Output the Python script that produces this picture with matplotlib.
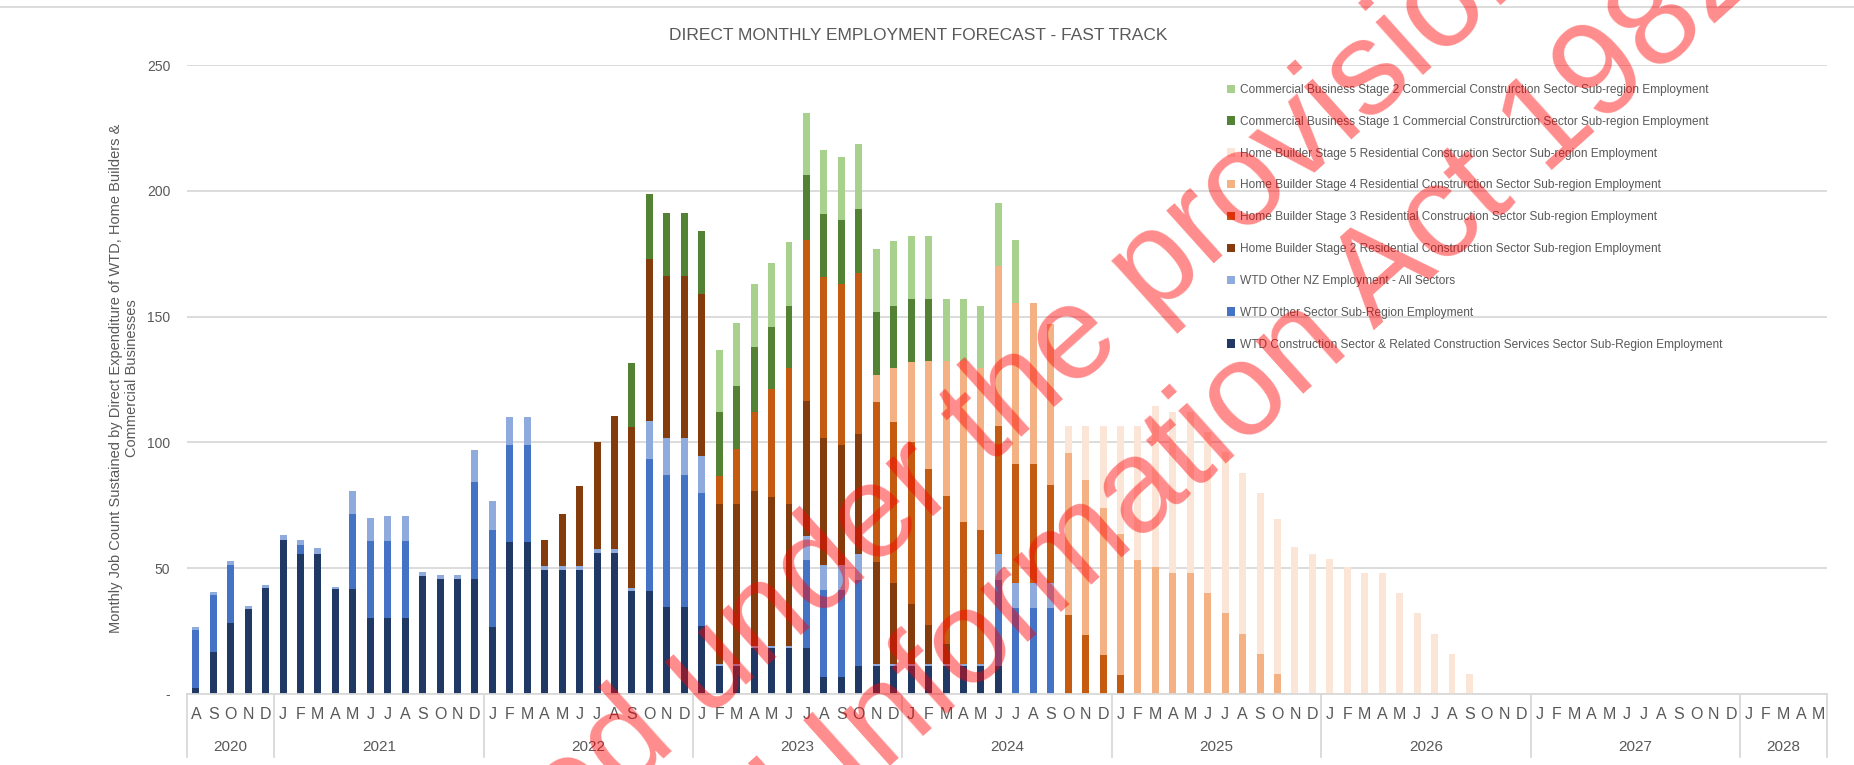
import numpy as np
import matplotlib
matplotlib.use("Agg")
import matplotlib.pyplot as plt
from matplotlib.transforms import blended_transform_factory
from matplotlib.lines import Line2D

plt.rcParams['font.family'] = ['Liberation Sans', 'DejaVu Sans']

# months Aug 2020 .. May 2028
months = list("ASOND") + list("JFMAMJJASOND") * 7 + list("JFMAM")
years = ["2020", "2021", "2022", "2023", "2024", "2025", "2026", "2027", "2028"]
year_months = [5, 12, 12, 12, 12, 12, 12, 12, 5]

# series values (jobs), stacked bottom -> top
wtd_construction = [
    2.3, 16.7, 28.2, 33.6, 42.2,
    61.4, 55.5, 55.5, 41.6, 41.6, 30.3, 30.3, 30.3, 46.8, 45.6, 45.6, 45.6,
    26.5, 60.4, 60.4, 49.3, 49.3, 49.3, 56.1, 56.1, 40.9, 40.9, 34.5, 34.5,
    26.9, 11.3, 11.3, 18.4, 18.4, 18.4, 18.4, 6.8, 6.8, 11.0, 11.0, 11.0,
    11.0, 11.0, 11.0, 11.0, 11.0, 11.0, 0, 0, 0, 0, 0, 0,
    0, 0, 0, 0, 0, 0, 0, 0, 0, 0, 0, 0,
    0, 0, 0, 0, 0, 0, 0, 0, 0, 0, 0, 0,
    0, 0, 0, 0, 0, 0, 0, 0, 0, 0, 0, 0,
    0, 0, 0, 0, 0]
wtd_other_sector = [
    23.0, 22.6, 23.0, 0, 0,
    0, 3.6, 0, 0, 30.0, 30.5, 30.5, 30.5, 0, 0, 0, 38.7,
    38.6, 38.7, 38.7, 0, 0, 0, 0, 0, 0, 52.4, 52.4, 52.4,
    52.9, 0, 0, 0, 0, 0, 34.7, 34.4, 34.4, 34.4, 0, 0,
    0, 0, 0, 0, 0, 34.5, 34.2, 34.2, 34.2, 0, 0, 0,
    0, 0, 0, 0, 0, 0, 0, 0, 0, 0, 0, 0,
    0, 0, 0, 0, 0, 0, 0, 0, 0, 0, 0, 0,
    0, 0, 0, 0, 0, 0, 0, 0, 0, 0, 0, 0,
    0, 0, 0, 0, 0]
wtd_other_nz = [
    1.4, 1.4, 1.5, 1.5, 1.0,
    1.8, 2.1, 2.4, 1.0, 9.0, 9.3, 10.0, 10.0, 1.5, 1.6, 1.6, 12.6,
    11.7, 11.1, 11.1, 1.6, 1.6, 1.6, 1.6, 1.6, 1.4, 15.3, 14.9, 14.9,
    14.9, 0.8, 0.8, 0.8, 0.8, 0.8, 9.8, 10.0, 10.0, 10.2, 0.9, 0.9,
    0.9, 0.9, 0.9, 0.9, 0.9, 10.0, 10.0, 10.0, 10.0, 0, 0, 0,
    0, 0, 0, 0, 0, 0, 0, 0, 0, 0, 0, 0,
    0, 0, 0, 0, 0, 0, 0, 0, 0, 0, 0, 0,
    0, 0, 0, 0, 0, 0, 0, 0, 0, 0, 0, 0,
    0, 0, 0, 0, 0]
hb_stage2 = [
    0, 0, 0, 0, 0,
    0, 0, 0, 0, 0, 0, 0, 0, 0, 0, 0, 0,
    0, 0, 0, 10.5, 20.8, 31.7, 42.4, 52.9, 63.8, 64.2, 64.2, 64.2,
    64.2, 63.6, 63.6, 61.3, 59.1, 56.5, 53.7, 50.4, 47.8, 47.8, 40.5, 32.1,
    23.9, 15.7, 8.1, 0, 0, 0, 0, 0, 0, 0, 0, 0,
    0, 0, 0, 0, 0, 0, 0, 0, 0, 0, 0, 0,
    0, 0, 0, 0, 0, 0, 0, 0, 0, 0, 0, 0,
    0, 0, 0, 0, 0, 0, 0, 0, 0, 0, 0, 0,
    0, 0, 0, 0, 0]
hb_stage3 = [
    0, 0, 0, 0, 0,
    0, 0, 0, 0, 0, 0, 0, 0, 0, 0, 0, 0,
    0, 0, 0, 0, 0, 0, 0, 0, 0, 0, 0, 0,
    0, 11.1, 21.7, 31.7, 43.1, 53.7, 64.0, 64.1, 63.9, 63.8, 63.6, 64.1,
    64.2, 61.9, 58.9, 56.3, 53.1, 51.0, 47.4, 47.4, 39.0, 31.4, 23.5, 15.6,
    7.6, 0, 0, 0, 0, 0, 0, 0, 0, 0, 0, 0,
    0, 0, 0, 0, 0, 0, 0, 0, 0, 0, 0, 0,
    0, 0, 0, 0, 0, 0, 0, 0, 0, 0, 0, 0,
    0, 0, 0, 0, 0]
hb_stage4 = [
    0, 0, 0, 0, 0,
    0, 0, 0, 0, 0, 0, 0, 0, 0, 0, 0, 0,
    0, 0, 0, 0, 0, 0, 0, 0, 0, 0, 0, 0,
    0, 0, 0, 0, 0, 0, 0, 0, 0, 0, 10.9, 21.3,
    32.0, 43.0, 53.6, 64.0, 64.4, 63.5, 63.9, 63.9, 63.9, 64.4, 61.5, 58.4,
    55.9, 53.3, 50.3, 47.9, 47.9, 40.0, 32.0, 24.0, 16.0, 8.0, 0, 0,
    0, 0, 0, 0, 0, 0, 0, 0, 0, 0, 0, 0,
    0, 0, 0, 0, 0, 0, 0, 0, 0, 0, 0, 0,
    0, 0, 0, 0, 0]
hb_stage5 = [
    0, 0, 0, 0, 0,
    0, 0, 0, 0, 0, 0, 0, 0, 0, 0, 0, 0,
    0, 0, 0, 0, 0, 0, 0, 0, 0, 0, 0, 0,
    0, 0, 0, 0, 0, 0, 0, 0, 0, 0, 0, 0,
    0, 0, 0, 0, 0, 0, 0, 0, 0, 10.6, 21.4, 32.4,
    43.0, 53.2, 64.3, 64.0, 64.0, 64.0, 64.0, 64.0, 64.0, 61.5, 58.5, 55.6,
    53.6, 50.3, 47.9, 47.9, 40.0, 32.0, 24.0, 16.0, 8.0, 0, 0, 0,
    0, 0, 0, 0, 0, 0, 0, 0, 0, 0, 0, 0,
    0, 0, 0, 0, 0]
cb_stage1 = [
    0, 0, 0, 0, 0,
    0, 0, 0, 0, 0, 0, 0, 0, 0, 0, 0, 0,
    0, 0, 0, 0, 0, 0, 0, 0, 25.4, 26.0, 25.2, 25.2,
    25.0, 25.1, 25.2, 25.8, 24.6, 24.8, 25.6, 25.2, 25.6, 25.7, 24.9, 24.8,
    25.2, 24.7, 0, 0, 0, 0, 0, 0, 0, 0, 0, 0,
    0, 0, 0, 0, 0, 0, 0, 0, 0, 0, 0, 0,
    0, 0, 0, 0, 0, 0, 0, 0, 0, 0, 0, 0,
    0, 0, 0, 0, 0, 0, 0, 0, 0, 0, 0, 0,
    0, 0, 0, 0, 0]
cb_stage2 = [
    0, 0, 0, 0, 0,
    0, 0, 0, 0, 0, 0, 0, 0, 0, 0, 0, 0,
    0, 0, 0, 0, 0, 0, 0, 0, 0, 0, 0, 0,
    0, 24.9, 25.0, 24.9, 25.4, 25.3, 24.9, 25.2, 24.8, 25.6, 25.0, 25.8,
    24.8, 24.8, 24.7, 25.0, 24.8, 25.3, 25.0, 0, 0, 0, 0, 0,
    0, 0, 0, 0, 0, 0, 0, 0, 0, 0, 0, 0,
    0, 0, 0, 0, 0, 0, 0, 0, 0, 0, 0, 0,
    0, 0, 0, 0, 0, 0, 0, 0, 0, 0, 0, 0,
    0, 0, 0, 0, 0]

series = [
    (wtd_construction, "#203864", "WTD Construction Sector & Related Construction Services Sector Sub-Region Employment"),
    (wtd_other_sector, "#4472c4", "WTD Other Sector Sub-Region Employment"),
    (wtd_other_nz, "#8faadc", "WTD Other NZ Employment - All Sectors"),
    (hb_stage2, "#843c0c", "Home Builder Stage 2 Residential Construrction Sector Sub-region Employment"),
    (hb_stage3, "#c55a11", "Home Builder Stage 3 Residential Construction Sector Sub-region Employment"),
    (hb_stage4, "#f4b183", "Home Builder Stage 4 Residential Construrction Sector Sub-region Employment"),
    (hb_stage5, "#fbe5d6", "Home Builder Stage 5 Residential Construction Sector Sub-region Employment"),
    (cb_stage1, "#548235", "Commercial Business Stage 1 Commercial Construrction Sector Sub-region Employment"),
    (cb_stage2, "#a9d18e", "Commercial Business Stage 2 Commercial Construrction Sector Sub-region Employment"),
]

grey = "#595959"
line_grey = "#d9d9d9"

fig = plt.figure(figsize=(18.54, 7.65), dpi=100)
ax = fig.add_axes([0.1009, 0.0928, 0.8846, 0.8222])

x = np.arange(len(months))
bottom = np.zeros(len(months))
handles = []
for vals, col, lab in series:
    v = np.array(vals, dtype=float)
    b = ax.bar(x, v, 0.4, bottom=bottom, color=col, label=lab, zorder=2)
    handles.append(b)
    bottom += v

ax.set_xlim(-0.5, len(months) - 0.5)
ax.set_ylim(0, 250)
ax.set_yticks([0, 50, 100, 150, 200, 250])
ax.set_yticklabels(["-", "50", "100", "150", "200", "250"])
ax.yaxis.grid(True, color=line_grey, lw=1.3)
ax.set_axisbelow(True)
for s in ["top", "right", "left"]:
    ax.spines[s].set_visible(False)
ax.spines["bottom"].set_color(line_grey)
ax.spines["bottom"].set_linewidth(1.3)
ax.tick_params(axis="y", length=0, pad=12, labelsize=10, labelcolor=grey)
ax.set_xticks(x)
ax.set_xticklabels(months)
ax.tick_params(axis="x", length=0, pad=9, labelsize=11.5, labelcolor=grey)

# year level of the category axis
trans = blended_transform_factory(ax.transData, ax.transAxes)
edges = np.concatenate([[0], np.cumsum(year_months)]) - 0.5
for e in edges:
    ax.plot([e, e], [0, -0.1], transform=trans, color=line_grey, lw=1.3, clip_on=False)
for i, yr in enumerate(years):
    ax.text((edges[i] + edges[i + 1]) / 2, -0.085, yr, transform=trans,
            ha="center", va="center", fontsize=11, color=grey)

ax.legend(handles[::-1], [s[2] for s in series][::-1], loc="upper left",
          bbox_to_anchor=(1227 / 1854, (765 - 84) / 765), bbox_transform=fig.transFigure,
          frameon=False, fontsize=8.6, labelcolor=grey, handlelength=0.7, handleheight=0.7,
          handletextpad=0.35, labelspacing=1.66, borderaxespad=0, borderpad=0)

fig.text(0.495, 0.954, "DIRECT MONTHLY EMPLOYMENT FORECAST - FAST TRACK",
         ha="center", va="center", fontsize=12.5, color=grey)
fig.text(0.067, 0.506,
         "Monthly Job Count Sustained by Direct Expenditure of WTD, Home Builders &\nCommercial Businesses",
         rotation=90, ha="center", va="center", fontsize=10.5, color=grey, multialignment="center")

fig.add_artist(Line2D([0, 1], [0.991, 0.991], color=line_grey, lw=1.3))

# release watermark
wm = dict(rotation=42, rotation_mode="anchor", ha="center", va="baseline",
          fontsize=96, color="red", alpha=0.45)
fig.text(985 / 1854, (765 - 470) / 765, "Released under the provisions of", **wm)
fig.text(1064 / 1854, (765 - 610) / 765, "the Official Information Act 1982", **wm)

fig.savefig("out.png", dpi=100, facecolor="white")
